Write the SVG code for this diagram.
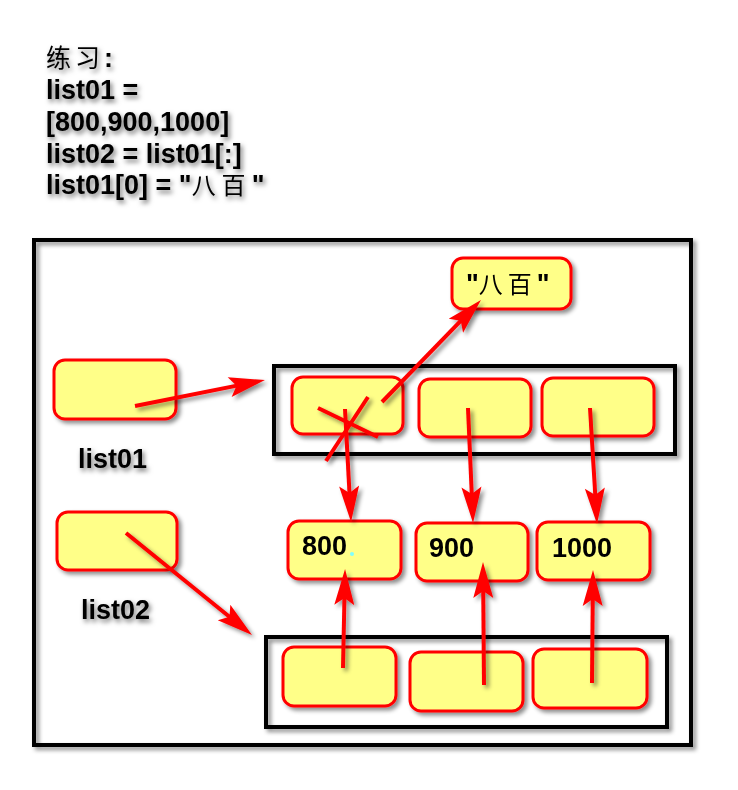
<svg xmlns="http://www.w3.org/2000/svg" width="738" height="790" viewBox="0 0 738 790">
<defs>
<filter id="sh" x="-20%" y="-20%" width="150%" height="150%">
<feDropShadow dx="3" dy="3" stdDeviation="2" flood-color="#000" flood-opacity="0.45"/>
</filter>
<filter id="tsh" x="-20%" y="-30%" width="150%" height="170%">
<feDropShadow dx="2" dy="3" stdDeviation="2.5" flood-color="#000" flood-opacity="0.55"/>
</filter>
<marker id="ah" markerUnits="userSpaceOnUse" markerWidth="42" markerHeight="26" viewBox="-2 -13 42 26" refX="24" refY="0" orient="auto">
<path d="M0,-10 L36,0 L0,10 L7,0 Z" fill="#ff0000"/>
</marker>
</defs>
<style>
.t{font-family:"Liberation Sans",Arial,"Noto Sans CJK SC",sans-serif;font-weight:bold;font-size:27px;fill:#000}
.cjk{font-family:"Noto Sans CJK SC",sans-serif;font-weight:normal}
.box{fill:#ffff88;stroke:#ff0000;stroke-width:3}
.frame{fill:none;stroke:#000;stroke-width:4}
.ar{stroke:#ff0000;stroke-width:4;fill:none;marker-end:url(#ah)}
.ln{stroke:#ff0000;stroke-width:4;fill:none}
</style>
<rect width="738" height="790" fill="#fff"/>
<g id="title" filter="url(#tsh)">
<text class="t" x="46" y="67"><tspan class="cjk" font-size="25" letter-spacing="4">练习</tspan>:</text>
<text class="t" x="46" y="99">list01 =</text>
<text class="t" x="46" y="131">[800,900,1000]</text>
<text class="t" x="46" y="163">list02 = list01[:]</text>
<text class="t" x="46" y="194">list01[0] = "<tspan class="cjk" font-size="24" letter-spacing="6">八百</tspan>"</text>
</g>
<g id="outer" filter="url(#sh)"><rect class="frame" x="34" y="240" width="657" height="505"/></g>
<g id="list01-frame" filter="url(#sh)"><rect class="frame" x="274" y="366" width="401" height="88"/></g>
<g id="list02-frame" filter="url(#sh)"><rect class="frame" x="266" y="637" width="401" height="90"/></g>
<g id="n-babai" filter="url(#sh)"><rect class="box" x="452" y="258" width="119" height="51" rx="11"/><text class="t" x="466" y="293">"<tspan class="cjk" font-size="24" letter-spacing="5">八百</tspan>"</text></g>
<g id="n-list01" filter="url(#sh)"><rect class="box" x="54" y="360" width="122" height="59" rx="11"/></g>
<g id="lbl-list01" filter="url(#tsh)"><text class="t" x="78" y="468" font-size="26">list01</text></g>
<g id="n-list02" filter="url(#sh)"><rect class="box" x="57" y="512" width="120" height="58" rx="11"/></g>
<g id="lbl-list02" filter="url(#tsh)"><text class="t" x="81" y="619" font-size="26">list02</text></g>
<g id="a0" filter="url(#sh)"><rect class="box" x="292" y="377" width="111" height="57" rx="11"/></g>
<g id="a1" filter="url(#sh)"><rect class="box" x="419" y="379" width="112" height="58" rx="11"/></g>
<g id="a2" filter="url(#sh)"><rect class="box" x="542" y="378" width="112" height="58" rx="11"/></g>
<g id="v800" filter="url(#sh)"><rect class="box" x="288" y="521" width="113" height="58" rx="11"/><text class="t" x="302" y="555" font-size="26">800</text></g>
<g id="v900" filter="url(#sh)"><rect class="box" x="416" y="523" width="112" height="58" rx="11"/><text class="t" x="429" y="557" font-size="26">900</text></g>
<g id="v1000" filter="url(#sh)"><rect class="box" x="537" y="522" width="113" height="58" rx="11"/><text class="t" x="552" y="557" font-size="26">1000</text></g>
<circle cx="352" cy="554" r="2" fill="#80ffff"/>
<g id="b0" filter="url(#sh)"><rect class="box" x="283" y="647" width="113" height="59" rx="11"/></g>
<g id="b1" filter="url(#sh)"><rect class="box" x="410" y="652" width="113" height="59" rx="11"/></g>
<g id="b2" filter="url(#sh)"><rect class="box" x="533" y="649" width="114" height="59" rx="11"/></g>
<g id="connectors" filter="url(#sh)">
<line class="ar" x1="135" y1="406" x2="253.2" y2="382.4"/>
<line class="ar" x1="126" y1="533" x2="242.7" y2="627.5"/>
<line class="ar" x1="382" y1="402" x2="472.6" y2="308.6"/>
<line class="ar" x1="345" y1="409" x2="350.4" y2="510"/>
<line class="ar" x1="468" y1="408" x2="472.5" y2="511"/>
<line class="ar" x1="590" y1="408" x2="596.3" y2="512"/>
<line class="ar" x1="343" y1="668" x2="344.8" y2="581"/>
<line class="ar" x1="484" y1="685" x2="483.1" y2="574"/>
<line class="ar" x1="592" y1="683" x2="592.9" y2="582"/>
<line class="ln" x1="318" y1="408" x2="378" y2="437"/>
<line class="ln" x1="368" y1="397" x2="326" y2="461"/>
</g>
</svg>
